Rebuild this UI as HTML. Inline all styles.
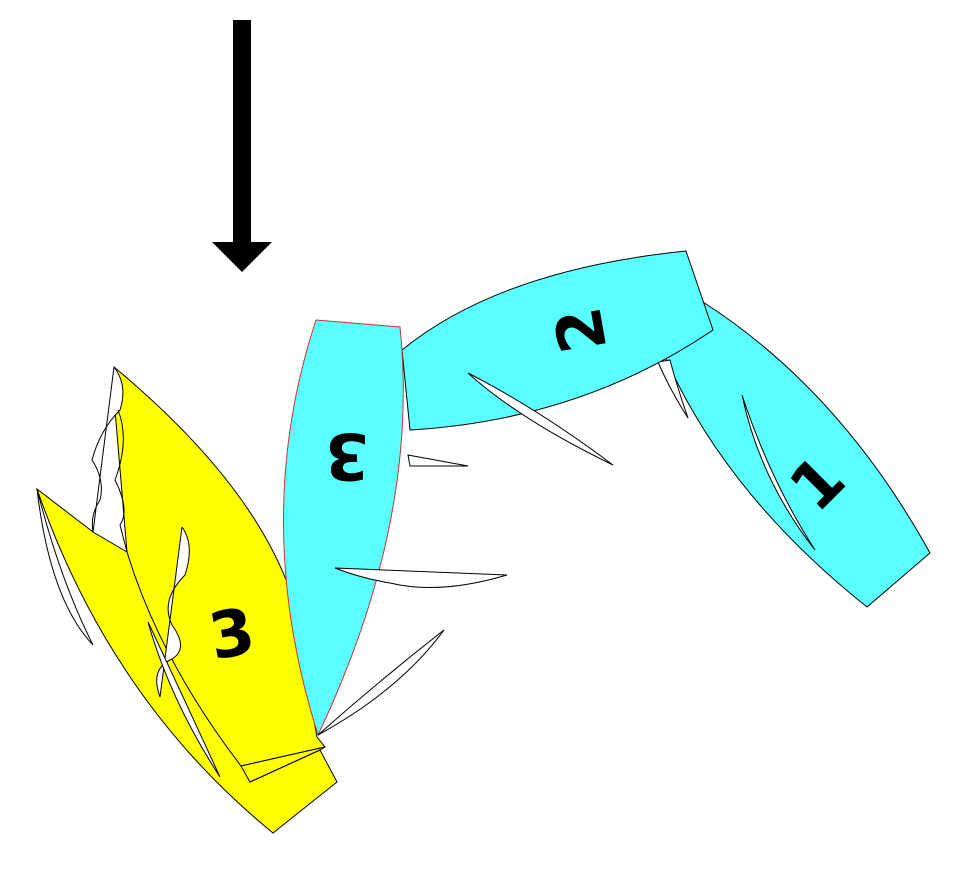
<!DOCTYPE html>
<html><head><meta charset="utf-8"><style>
html,body{margin:0;padding:0;background:#fff;width:965px;height:890px;overflow:hidden}
svg{display:block}
text{font-family:"DejaVu Sans","Liberation Sans",sans-serif;font-size:64px;font-weight:bold;fill:#000}
</style></head><body>
<svg width="965" height="890" viewBox="0 0 965 890" xmlns="http://www.w3.org/2000/svg">
<!-- arrow -->
<rect x="233" y="20" width="18" height="224" fill="#000"/>
<polygon points="212,242 272,242 242,272" fill="#000"/>

<!-- boat 1 -->
<path d="M867,607 L930,553 Q840,390 703,302 L660,345 Q720,490 867,607 Z" fill="#5affff" stroke="#000" stroke-width="1"/>
<path d="M742,395 Q760,480 815,550 Q770,480 742,395 Z" fill="#fff" stroke="#000" stroke-width="1"/>
<path d="M658,362 Q670,390 688,418 Q678,390 670,360 Z" fill="#fff" stroke="#000" stroke-width="1"/>
<text transform="translate(818,484) rotate(-45)" text-anchor="middle" dominant-baseline="central">1</text>

<!-- boat 2 -->
<path d="M686,251 L713,330 Q580,420 410,430 L402,350 Q500,270 686,251 Z" fill="#5affff" stroke="#000" stroke-width="1"/>
<path d="M468,373 Q520,420 613,465 Q540,410 468,373 Z" fill="#fff" stroke="#000" stroke-width="1"/>
<text transform="translate(582,330) rotate(-100)" text-anchor="middle" dominant-baseline="central">2</text>

<!-- yellow back hull -->
<path d="M37,489 L93,532 L127,552 Q230,660 320,750 L337,782 L273,833 Q110,700 37,489 Z" fill="#ffff00" stroke="#000" stroke-width="1"/>
<path d="M37,489 Q50,600 93,645 Q60,580 37,489 Z" fill="#fff" stroke="#000" stroke-width="1"/>
<!-- yellow front hull -->
<path d="M114,367 Q250,480 290,590 L317,737 L325,747 L241,766 Q160,660 127,552 L115,410 Z" fill="#ffff00" stroke="#000" stroke-width="1"/>
<path d="M250,782 L241,766 L325,747 L320,750 Z" fill="#ffff00" stroke="#000" stroke-width="1"/>
<path d="M250,782 L320,750" stroke="#000" fill="none"/>
<!-- flapping sails -->
<path d="M114,367 Q128,385 120,410 Q100,430 92,460 Q105,480 100,500 Q90,515 93,532 L114,367" fill="#fff" stroke="#000" stroke-width="1"/>
<path d="M118,410 Q130,440 115,480 Q130,510 120,525 L127,552" fill="none" stroke="#000" stroke-width="1"/>
<path d="M182,527 Q195,545 185,575 Q160,600 172,625 Q190,650 170,660 Q150,670 160,697 L182,527" fill="#fff" stroke="#000" stroke-width="1"/>
<path d="M148,622 Q170,700 220,777 Q180,690 148,622 Z" fill="#fff" stroke="#000" stroke-width="1"/>
<text x="232" y="635" text-anchor="middle" dominant-baseline="central" transform="rotate(-10 232 635)">3</text>

<!-- boat 3' -->
<path d="M408,455 L468,466 L410,466 Z" fill="#fff" stroke="#000" stroke-width="1"/>
<path d="M316,320 L400,327 Q420,520 318,735 Q250,520 316,320 Z" fill="#5affff" stroke="#cc3333" stroke-width="1"/>
<path d="M335,568 L507,575 Q440,595 390,583 Q360,578 335,568 Z" fill="#fff" stroke="#000" stroke-width="1"/>
<path d="M318,735 Q400,690 444,630 Q380,680 318,735 Z" fill="#fff" stroke="#000" stroke-width="1"/>
<text transform="translate(347,455) rotate(180)" text-anchor="middle" dominant-baseline="central">3</text>
</svg>
</body></html>
